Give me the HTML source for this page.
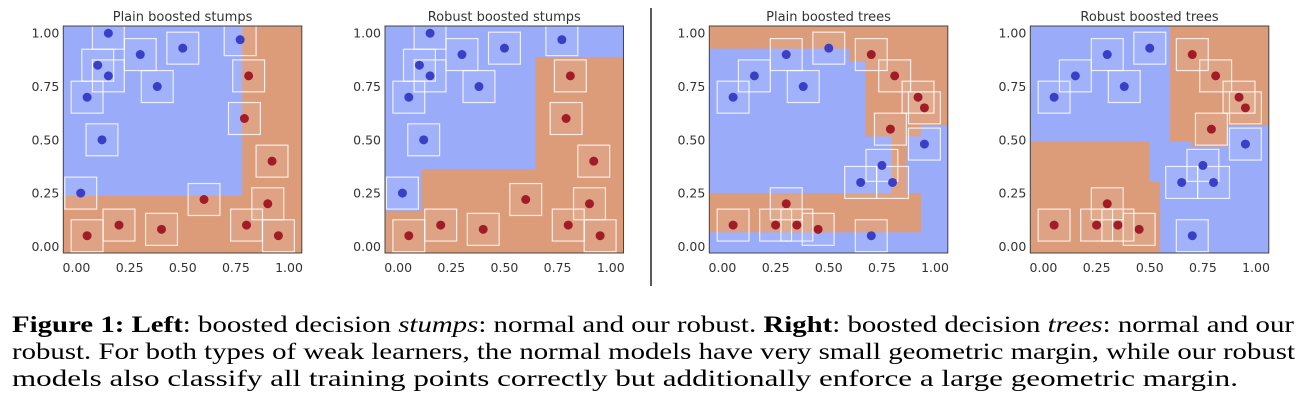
<!DOCTYPE html>
<html><head><meta charset="utf-8"><style>
html,body{margin:0;padding:0;background:#fff;width:1301px;height:407px;overflow:hidden;position:relative}
svg{display:block}
.ax{font-family:"DejaVu Sans",sans-serif;fill:#333}
#caption{position:absolute;left:12px;top:312px;font-family:"Liberation Serif","Times New Roman",serif;font-size:23.5px;line-height:27px;color:#000}
#caption div{white-space:nowrap;height:27px}
#caption span{display:inline-block;transform-origin:0 0}
</style></head><body>
<svg id="fig" width="1301" height="407" xmlns="http://www.w3.org/2000/svg">
<line x1="651" y1="8" x2="651" y2="286" stroke="#222" stroke-width="1.5"/>
</svg>
<div id="caption">
<div><span data-w="1282"><b>Figure 1: Left</b>: boosted decision <i>stumps</i>: normal and our robust. <b>Right</b>: boosted decision <i>trees</i>: normal and our</span></div>
<div><span data-w="1283">robust. For both types of weak learners, the normal models have very small geometric margin, while our robust</span></div>
<div><span data-w="1226">models also classify all training points correctly but additionally enforce a large geometric margin.</span></div>
</div>
<script>
document.querySelectorAll('#caption span').forEach(s=>{
  const w=s.getBoundingClientRect().width;
  s.style.transform='scaleX('+(parseFloat(s.getAttribute('data-w'))/w)+')';
});
// Data: stumps dataset
const stumpBlueX=[0.15,0.30,0.50,0.77,0.10,0.15,0.38,0.05,0.12,0.02];
const stumpBlueY=[1.00,0.90,0.93,0.97,0.85,0.80,0.75,0.70,0.50,0.25];
const stumpRedX=[0.81,0.79,0.92,0.60,0.90,0.05,0.20,0.40,0.80,0.95];
const stumpRedY=[0.80,0.60,0.40,0.22,0.20,0.05,0.10,0.08,0.10,0.05];
// Data: trees dataset
const treeBlueX=[0.05,0.15,0.30,0.38,0.50,0.95,0.75,0.65,0.80,0.70];
const treeBlueY=[0.70,0.80,0.90,0.75,0.93,0.48,0.38,0.30,0.30,0.05];
const treeRedX=[0.70,0.81,0.92,0.95,0.79,0.30,0.05,0.25,0.35,0.45];
const treeRedY=[0.90,0.80,0.70,0.65,0.55,0.20,0.10,0.10,0.10,0.08];
// Decision regions [x0,x1,y0,y1]
const plainStumpBlue=[[-0.1,0.78,0.2375,1.1]];
const robustStumpOrange=[[-0.1,1.1,-0.1,0.167],[0.11,1.1,-0.1,0.3625],[0.645,1.1,-0.1,0.8875]];
const plainTreeOrange=[[-0.1,1.1,0.928,1.1],[0.595,1.1,0.866,1.1],[0.671,0.933,0.516,1.1],[0.797,0.866,0.25,0.6],[0.933,1.1,0.566,1.1],[-0.1,0.933,0.066,0.25]];
const robustTreeOrange=[[0.596,0.70,0.492,1.1],[0.697,0.866,0.469,1.1],[0.866,1.1,0.566,1.1],[-0.1,0.50,-0.1,0.492],[0.49,0.549,-0.1,0.303]];
const titles=["Plain boosted stumps","Robust boosted stumps","Plain boosted trees","Robust boosted trees"];
const tickVals=[0,0.25,0.5,0.75,1.0];
const tickLabels=["0.00","0.25","0.50","0.75","1.00"];

const BLUE="#9aabfa",ORANGE="#dc9c7a",PB="#3b3fc6",PR="#a11c26";
const NS="http://www.w3.org/2000/svg";
const svg=document.getElementById('fig');
function mk(tag,attrs,parent){const e=document.createElementNS(NS,tag);for(const k in attrs)e.setAttribute(k,attrs[k]);(parent||svg).appendChild(e);return e;}

const lefts=[63.3,385,709.3,1030.3];
const XMIN=-0.062,XMAX=1.06,YMIN=-0.031,YMAX=1.034;
const W=238.5,TOP=26,BOT=253;
const panels=[
 {base:ORANGE,rects:plainStumpBlue,rc:BLUE,bx:stumpBlueX,by:stumpBlueY,rx:stumpRedX,ry:stumpRedY},
 {base:BLUE,rects:robustStumpOrange,rc:ORANGE,bx:stumpBlueX,by:stumpBlueY,rx:stumpRedX,ry:stumpRedY},
 {base:BLUE,rects:plainTreeOrange,rc:ORANGE,bx:treeBlueX,by:treeBlueY,rx:treeRedX,ry:treeRedY},
 {base:BLUE,rects:robustTreeOrange,rc:ORANGE,bx:treeBlueX,by:treeBlueY,rx:treeRedX,ry:treeRedY}
];
panels.forEach((p,i)=>{
  const L=lefts[i];
  const sx=v=>L+(v-XMIN)/(XMAX-XMIN)*W;
  const sy=v=>BOT-(v-YMIN)/(YMAX-YMIN)*(BOT-TOP);
  const g=mk('g',{});
  
  
  const cid='clip'+i;
  const cp=mk('clipPath',{id:cid},g);mk('rect',{x:L,y:TOP,width:W,height:BOT-TOP},cp);
  const plot=mk('g',{'clip-path':'url(#'+cid+')'},g);
  const bg=mk('rect',{x:L,y:TOP,width:W,height:BOT-TOP,fill:p.base},plot);
  
  
  p.rects.forEach(r=>{
    const e=mk('rect',{x:sx(r[0]),y:sy(r[3]),width:sx(r[1])-sx(r[0]),height:sy(r[2])-sy(r[3]),fill:p.rc},plot);
    
    
  });
  const h=0.075;
  const pts=[];
  p.bx.forEach((x,j)=>pts.push([x,p.by[j],PB,'blue']));
  p.rx.forEach((x,j)=>pts.push([x,p.ry[j],PR,'red']));
  pts.forEach(q=>{
    const s=mk('rect',{x:sx(q[0]-h),y:sy(q[1]+h),width:sx(q[0]+h)-sx(q[0]-h),height:sy(q[1]-h)-sy(q[1]+h),fill:'rgba(255,255,255,0.08)',stroke:'rgba(255,255,255,0.8)','stroke-width':1.2},plot);
    
    
  });
  pts.forEach(q=>{
    const c=mk('circle',{cx:sx(q[0]),cy:sy(q[1]),r:4.5,fill:q[2]},plot);
    
    
  });
  const fr=mk('rect',{x:L,y:TOP,width:W,height:BOT-TOP,fill:'none',stroke:'#444','stroke-width':1},g);
  
  
  const t=mk('text',{x:L+W/2,y:21,'text-anchor':'middle','class':'ax','font-size':13},g);
  t.textContent=titles[i];
  
  
  tickVals.forEach((v,k)=>{
    const tx=mk('text',{x:sx(v),y:272,'text-anchor':'middle','class':'ax','font-size':12.5},g);
    tx.textContent=tickLabels[k];
    
    
    const ty=mk('text',{x:L-4,y:sy(v)+4.5,'text-anchor':'end','class':'ax','font-size':12.5},g);
    ty.textContent=tickLabels[k];
    
    
  });
});
</script>
</body></html>
